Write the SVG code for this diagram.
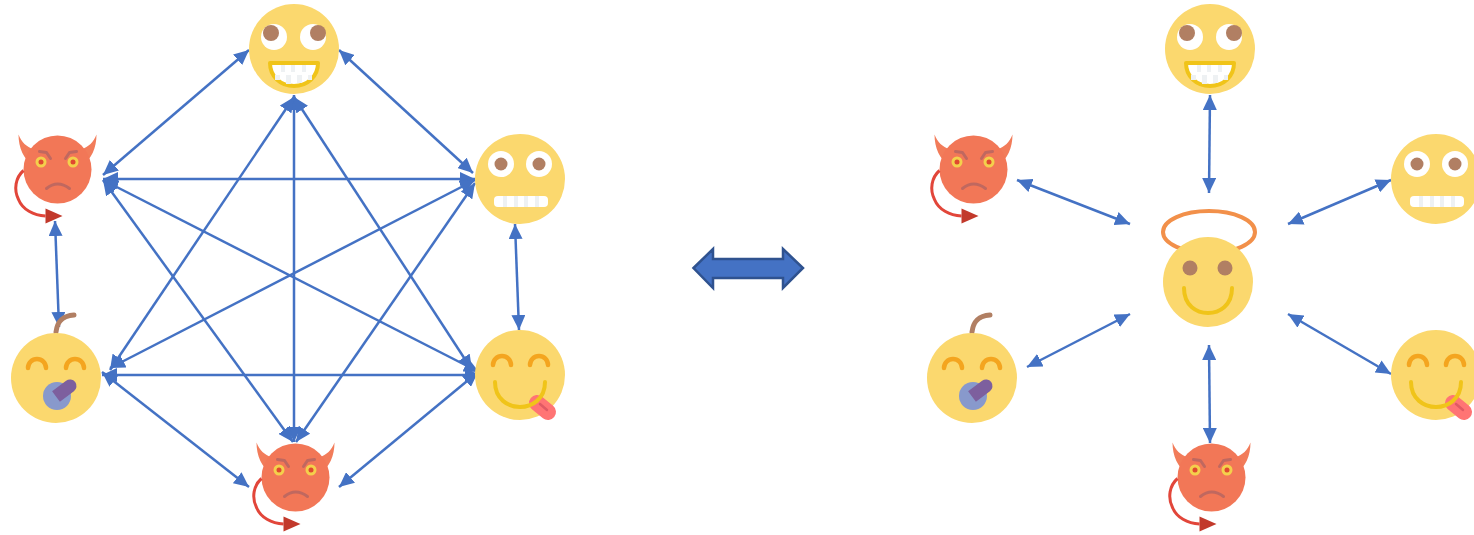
<svg xmlns="http://www.w3.org/2000/svg" width="1474" height="535" viewBox="0 0 1474 535">
<style>
.y{fill:#fbd86e}.w{fill:#fff}.p{fill:#b17f63}
.e{fill:none;stroke:#f4a51f;stroke-width:4.500;stroke-linecap:round}
.s{fill:none;stroke:#f0c419;stroke-width:4;stroke-linecap:round}
.c{fill:none;stroke:#4472c4;stroke-width:2.500;marker-start:url(#a);marker-end:url(#a)}
.br{fill:none;stroke:#c0685f;stroke-width:3;stroke-linecap:round;stroke-linejoin:round}
.tooth{fill:#eef1f3}
</style>
<defs>
<marker id="a" markerUnits="userSpaceOnUse" markerWidth="17" markerHeight="14" refX="15" refY="7" orient="auto-start-reverse" viewBox="0 0 17 14"><path d="M0 0L15 7L0 14z" fill="#4472c4"/></marker>
<g id="grin">
<circle class="y" r="45"/>
<circle class="w" cx="-20" cy="-12" r="13"/><circle class="w" cx="19" cy="-12" r="13"/>
<circle class="p" cx="-23" cy="-16" r="8"/><circle class="p" cx="24" cy="-16" r="8"/>
<path d="M-24 14H24C24 28 13 37 0 37C-13 37-24 28-24 14Z" fill="#fff" stroke="#f0c419" stroke-width="4" stroke-linejoin="round"/>
<path class="tooth" d="M-13 16h4v7h-4zM-3 16h4v7h-4zM8 16h4v7h-4zM-19 26h5v5h-5zM-8 26h5v9h-5zM3 26h5v8h-5zM14 26h4v5h-4z"/>
</g>
<g id="grimace">
<circle class="y" r="45"/>
<circle class="w" cx="-19" cy="-15" r="13"/><circle class="w" cx="19" cy="-15" r="13"/>
<circle class="p" cx="-19" cy="-15" r="6.500"/><circle class="p" cx="19" cy="-15" r="6.500"/>
<rect class="w" x="-26" y="17" width="54" height="11" rx="4"/>
<path class="tooth" d="M-17 17h4v11h-4zM-6 17h4v11h-4zM4 17h4v11h-4zM15 17h4v11h-4z"/>
</g>
<g id="tongue">
<circle class="y" r="45"/>
<path class="e" d="M-27-10A9 9 0 0 1-9-10M10-10A9 9 0 0 1 28-10"/>
<path d="M17 28L28 37" stroke="#ff7474" stroke-width="16" stroke-linecap="round"/>
<path d="M20 29L27 35" stroke="#e05a64" stroke-width="2.500" stroke-linecap="round"/>
<path class="s" d="M-25 7C-25 24-12 32 0 32C12 32 25 24 25 7"/>
</g>
<g id="baby">
<path d="M0-46C1-54 4-62 18-63" fill="none" stroke="#b17f63" stroke-width="5" stroke-linecap="round"/>
<circle class="y" r="45"/>
<path class="e" d="M-28-10A9 9 0 0 1-10-10M10-10A9 9 0 0 1 28-10"/>
<circle cx="1" cy="18" r="14" fill="#8899cc"/>
<path d="M-3.900 13.300L3.900 23.700L17.900 13.200A6.500 6.500 0 0 0 10.100 2.800Z" fill="#7d5f9e"/>
</g>
<g id="devil">
<path d="M-39-35C-36-27-31-23-24-20L-24-4C-34-10-39-22-39-35ZM39-35C36-27 31-23 24-20L24-4C34-10 39-22 39-35Z" fill="#f27c5a"/>
<circle r="34" fill="#f27757"/>
<path class="br" d="M-18-18L-11-17L-7-11M19-18L12-17L8-11M-11 19Q0 10 12 19"/>
<circle cx="-16.500" cy="-7.500" r="5.500" fill="#f4d04c"/><circle cx="-16.500" cy="-7.500" r="2.500" fill="#e0492f"/>
<circle cx="15.500" cy="-7.500" r="5.500" fill="#f4d04c"/><circle cx="15.500" cy="-7.500" r="2.500" fill="#e0492f"/>
<path d="M-34 1C-42 8-44 20-39 30C-35 40-24 46-12 46.500" fill="none" stroke="#e2463a" stroke-width="3"/>
<path d="M-12 39L5 46.500L-12 54Z" fill="#c2392b"/>
</g>
<g id="angel">
<ellipse cx="1" cy="-50" rx="46" ry="21" fill="none" stroke="#f2904a" stroke-width="4"/>
<circle class="y" r="45"/>
<circle class="p" cx="-18" cy="-14" r="7.500"/><circle class="p" cx="17" cy="-14" r="7.500"/>
<path class="s" d="M-24 6C-24 24-11 31 0 31C11 31 24 24 24 6"/>
</g>
</defs>
<g id="connectors">
<path class="c" d="M249 50L103 175"/><path class="c" d="M339 50L473 173"/><path class="c" d="M294 95V442"/>
<path class="c" d="M294 97L110 370"/><path class="c" d="M294 97L472 370"/><path class="c" d="M103 179H475"/>
<path class="c" d="M103 180L479 372"/><path class="c" d="M103 180L293 442"/><path class="c" d="M110 368L475 180"/>
<path class="c" d="M102 375H480"/><path class="c" d="M102 372L249 487"/><path class="c" d="M475 183L296 442"/>
<path class="c" d="M478 372L339 487"/><path class="c" d="M515 224L519 330"/><path class="c" d="M55 221L59 327"/>
<path class="c" d="M1210 95L1209 193"/><path class="c" d="M1017 180L1130 224"/><path class="c" d="M1391 180L1288 224"/>
<path class="c" d="M1130 314L1027 367"/><path class="c" d="M1288 314L1391 374"/><path class="c" d="M1209 345L1210 443"/>
</g>
<g id="double-arrow"><path d="M693.500 268L713 249V259H783V249L803 268L783 288V278H713V288Z" fill="#4472c4" stroke="#2f528f" stroke-width="2.500"/></g>
<g id="l-top"><use href="#grin" x="294" y="49"/></g>
<g id="l-grimace"><use href="#grimace" x="520" y="179"/></g>
<g id="l-tongue"><use href="#tongue" x="520" y="375"/></g>
<g id="l-baby"><use href="#baby" x="56" y="378"/></g>
<g id="l-devil-top"><use href="#devil" x="57.500" y="169.500"/></g>
<g id="l-devil-bottom"><use href="#devil" x="295.500" y="477.500"/></g>
<g id="r-top"><use href="#grin" x="1210" y="49"/></g>
<g id="r-grimace"><use href="#grimace" x="1436" y="179"/></g>
<g id="r-tongue"><use href="#tongue" x="1436" y="375"/></g>
<g id="r-baby"><use href="#baby" x="972" y="378"/></g>
<g id="r-devil-top"><use href="#devil" x="973.500" y="169.500"/></g>
<g id="r-devil-bottom"><use href="#devil" x="1211.500" y="477.500"/></g>
<g id="r-angel"><use href="#angel" x="1208" y="282"/></g>
</svg>
